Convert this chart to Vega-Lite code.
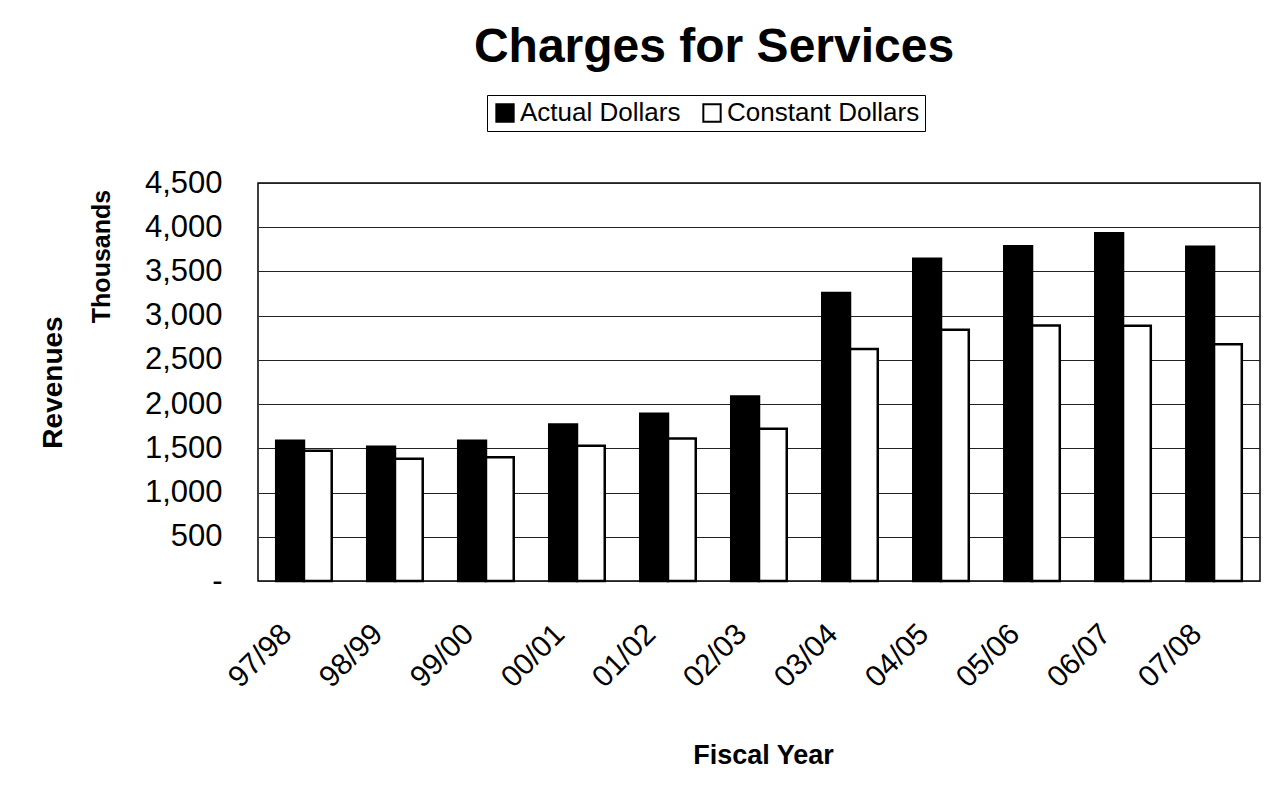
{
  "$schema": "https://vega.github.io/schema/vega-lite/v6.json",
  "width": 1002,
  "height": 398,
  "autosize": {"type": "none"},
  "padding": {"left": 258, "top": 183, "right": 14, "bottom": 218},
  "background": "white",
  "title": {
    "text": "Charges for Services",
    "font": "Liberation Sans",
    "fontSize": 48,
    "fontWeight": "bold",
    "color": "black",
    "anchor": "middle",
    "dx": -45,
    "offset": 23
  },
  "data": {
    "values": [
      {"year": "97/98", "series": "Actual Dollars", "value": 1585},
      {"year": "97/98", "series": "Constant Dollars", "value": 1474},
      {"year": "98/99", "series": "Actual Dollars", "value": 1518},
      {"year": "98/99", "series": "Constant Dollars", "value": 1382},
      {"year": "99/00", "series": "Actual Dollars", "value": 1585},
      {"year": "99/00", "series": "Constant Dollars", "value": 1400},
      {"year": "00/01", "series": "Actual Dollars", "value": 1770},
      {"year": "00/01", "series": "Constant Dollars", "value": 1530},
      {"year": "01/02", "series": "Actual Dollars", "value": 1892},
      {"year": "01/02", "series": "Constant Dollars", "value": 1611},
      {"year": "02/03", "series": "Actual Dollars", "value": 2086},
      {"year": "02/03", "series": "Constant Dollars", "value": 1721},
      {"year": "03/04", "series": "Actual Dollars", "value": 3255},
      {"year": "03/04", "series": "Constant Dollars", "value": 2624},
      {"year": "04/05", "series": "Actual Dollars", "value": 3643},
      {"year": "04/05", "series": "Constant Dollars", "value": 2842},
      {"year": "05/06", "series": "Actual Dollars", "value": 3785},
      {"year": "05/06", "series": "Constant Dollars", "value": 2890},
      {"year": "06/07", "series": "Actual Dollars", "value": 3932},
      {"year": "06/07", "series": "Constant Dollars", "value": 2887},
      {"year": "07/08", "series": "Actual Dollars", "value": 3778},
      {"year": "07/08", "series": "Constant Dollars", "value": 2676}
    ]
  },
  "layer": [
    {
      "mark": {"type": "bar", "stroke": "black", "strokeWidth": 2.5},
      "encoding": {
        "x": {
          "field": "year",
          "type": "nominal",
          "sort": null,
          "scale": {"paddingInner": 0.39, "paddingOuter": 0.2},
          "axis": {
            "labelAngle": -45,
            "labelAlign": "right",
            "labelBaseline": "middle",
            "labelFont": "Liberation Sans",
            "labelFontSize": 30,
            "labelColor": "black",
            "labelPadding": 48,
            "labelOffset": -17,
            "ticks": false,
            "domain": false,
            "title": "Fiscal Year",
            "titleFont": "Liberation Sans",
            "titleFontSize": 27,
            "titleFontWeight": "bold",
            "titleColor": "black",
            "titleX": 505,
            "titleY": 182,
            "titleAlign": "center",
            "titleBaseline": "alphabetic"
          }
        },
        "xOffset": {"field": "series", "type": "nominal", "scale": {"paddingInner": 0, "paddingOuter": 0}},
        "y": {
          "field": "value",
          "type": "quantitative",
          "scale": {"domain": [0, 4500], "nice": false},
          "axis": {
            "values": [0, 500, 1000, 1500, 2000, 2500, 3000, 3500, 4000, 4500],
            "labelExpr": "datum.value == 0 ? '-' : format(datum.value, ',')",
            "labelFont": "Liberation Sans",
            "labelFontSize": 31,
            "labelColor": "black",
            "labelPadding": 36,
            "ticks": false,
            "domain": false,
            "grid": true,
            "gridColor": "#222222",
            "gridWidth": 1,
            "gridOpacity": 1,
            "title": "Thousands",
            "titleFont": "Liberation Sans",
            "titleFontSize": 25,
            "titleFontWeight": "bold",
            "titleColor": "black",
            "titleAngle": -90,
            "titleX": -157,
            "titleY": 73,
            "titleAlign": "center",
            "titleBaseline": "middle"
          }
        },
        "color": {
          "field": "series",
          "type": "nominal",
          "scale": {"domain": ["Actual Dollars", "Constant Dollars"], "range": ["black", "white"]},
          "legend": {
            "title": null,
            "orient": "none",
            "legendX": 229,
            "legendY": -88,
            "direction": "horizontal",
            "symbolType": "square",
            "symbolSize": 300,
            "symbolStrokeColor": "black",
            "symbolStrokeWidth": 2,
            "symbolOpacity": 1,
            "labelFont": "Liberation Sans",
            "labelFontSize": 26,
            "labelColor": "black",
            "labelOffset": 2,
            "labelLimit": 400,
            "columnPadding": 18,
            "padding": 5,
            "strokeColor": "black",
            "fillColor": "white"
          }
        }
      }
    },
    {
      "mark": {"type": "point", "opacity": 0},
      "encoding": {
        "x": {"field": "year", "type": "nominal", "sort": null},
        "y": {
          "field": "value",
          "type": "quantitative",
          "scale": {"domain": [0, 4500], "nice": false},
          "axis": {
            "orient": "left",
            "labels": false,
            "ticks": false,
            "domain": false,
            "grid": false,
            "title": "Revenues",
            "titleFont": "Liberation Sans",
            "titleFontSize": 28,
            "titleFontWeight": "bold",
            "titleColor": "black",
            "titleAngle": -90,
            "titleX": -205,
            "titleY": 199,
            "titleAlign": "center",
            "titleBaseline": "middle"
          }
        }
      }
    }
  ],
  "resolve": {"axis": {"y": "independent"}},
  "config": {
    "view": {"stroke": "black", "strokeWidth": 1.5},
    "axis": {"labelOverlap": false}
  }
}
